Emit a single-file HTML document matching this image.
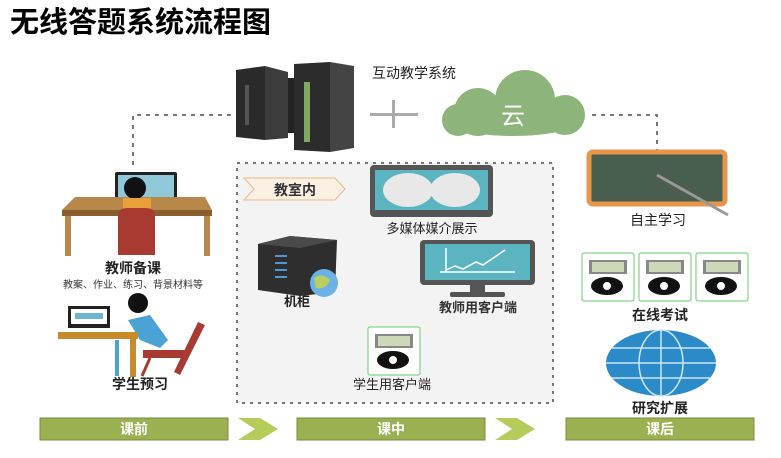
<!DOCTYPE html>
<html><head><meta charset="utf-8"><style>
html,body{margin:0;padding:0;background:#fff;width:781px;height:458px;overflow:hidden}
text{font-family:"Liberation Sans","Noto Sans CJK SC",sans-serif}
</style></head><body>
<svg width="781" height="458" viewBox="0 0 781 458" xmlns="http://www.w3.org/2000/svg">
<text x="10" y="32" font-size="29" font-weight="bold" fill="#000">无线答题系统流程图</text>
<!-- dashed connectors -->
<path d="M133 165 V115 H232" stroke="#777" stroke-width="2" stroke-dasharray="4 5" fill="none"/>
<path d="M592 115 H657 V150" stroke="#777" stroke-width="2" stroke-dasharray="4 5" fill="none"/>
<!-- classroom box -->
<rect x="237" y="163" width="316" height="240" fill="#f3f3f3" stroke="#777" stroke-width="2" stroke-dasharray="3 5"/>
<!-- server -->
<polygon points="236,70 265,66 265,140 236,137" fill="#2a2a2a"/>
<polygon points="265,66 288,72 288,138 265,140" fill="#3c3c3c"/>
<rect x="288" y="78" width="6" height="55" fill="#222"/>
<polygon points="294,64 330,62 330,152 294,150" fill="#2c2c2c"/>
<polygon points="330,62 354,66 354,148 330,152" fill="#444"/>
<rect x="304" y="82" width="6" height="60" fill="#7fa860"/>
<rect x="245" y="85" width="4" height="40" fill="#555"/>
<!-- label -->
<text x="372" y="78" font-size="14" fill="#222">互动教学系统</text>
<!-- plus -->
<rect x="370" y="113" width="48" height="3" fill="#aaa"/>
<rect x="392" y="100" width="3" height="28" fill="#aaa"/>
<!-- cloud -->
<g fill="#8db47a">
<ellipse cx="513" cy="118" rx="70" ry="18"/>
<circle cx="478" cy="112" r="24"/>
<circle cx="525" cy="100" r="30"/>
<circle cx="565" cy="115" r="20"/>
<circle cx="458" cy="120" r="16"/>
</g>
<text x="513" y="124" font-size="24" fill="#fff" text-anchor="middle">云</text>
<!-- blackboard -->
<rect x="589" y="152" width="136" height="52" rx="4" fill="#4a5e50" stroke="#e8964a" stroke-width="5"/>
<line x1="657" y1="175" x2="728" y2="215" stroke="#999" stroke-width="3"/>
<text x="630" y="225" font-size="14" fill="#222">自主学习</text>
<!-- teacher prep -->
<rect x="115" y="172" width="62" height="28" rx="2" fill="#222"/>
<rect x="118" y="175" width="56" height="22" fill="#8fc8d8"/>
<polygon points="75,197 205,197 212,210 62,210" fill="#b8874a"/>
<rect x="62" y="210" width="150" height="6" fill="#8a5e2e"/>
<rect x="65" y="216" width="6" height="40" fill="#b8874a"/>
<rect x="204" y="216" width="6" height="40" fill="#b8874a"/>
<circle cx="135" cy="188" r="11" fill="#111"/>
<rect x="123" y="198" width="28" height="14" fill="#e8a13a"/>
<path d="M118 215 Q118 208 128 208 H145 Q155 208 155 215 V255 H118Z" fill="#a83a32"/>
<text x="133" y="273" font-size="14" font-weight="bold" fill="#222" text-anchor="middle">教师备课</text>
<text x="133" y="288" font-size="10" fill="#333" text-anchor="middle">教案、作业、练习、背景材料等</text>
<!-- student -->
<rect x="68" y="306" width="42" height="22" fill="#222"/>
<rect x="71" y="309" width="36" height="15" fill="#fff"/>
<rect x="75" y="313" width="28" height="6" fill="#6fb6cc"/>
<circle cx="138" cy="303" r="10" fill="#111"/>
<path d="M128 320 L150 315 L168 340 L160 348 L140 340 Z" fill="#4aa3d4"/>
<rect x="58" y="332" width="80" height="7" fill="#c88a2a"/>
<rect x="130" y="339" width="6" height="38" fill="#c88a2a"/>
<rect x="115" y="340" width="4" height="36" fill="#4aa3d4"/>
<polygon points="198,322 205,325 180,375 174,372" fill="#a83a32"/>
<rect x="143" y="350" width="45" height="8" fill="#a83a32"/>
<line x1="150" y1="358" x2="142" y2="376" stroke="#a83a32" stroke-width="3"/>
<text x="140" y="389" font-size="14" font-weight="bold" fill="#222" text-anchor="middle">学生预习</text>
<!-- 教室内 tag -->
<polygon points="244,178 335,178 345,189 335,200 244,200 254,189" fill="#fbf0e4" stroke="#e8b888" stroke-width="1"/>
<text x="295" y="195" font-size="14" font-weight="bold" fill="#333" text-anchor="middle">教室内</text>
<!-- multimedia -->
<rect x="370" y="165" width="123" height="52" rx="4" fill="#555"/>
<rect x="375" y="170" width="113" height="40" fill="#5bb5c0"/>
<ellipse cx="408" cy="190" rx="25" ry="17" fill="#e8e8e8"/>
<ellipse cx="455" cy="190" rx="25" ry="17" fill="#e8e8e8"/>
<text x="432" y="233" font-size="13" fill="#222" text-anchor="middle">多媒体媒介展示</text>
<!-- cabinet -->
<polygon points="258,244 290,236 337,240 335,292 300,296 258,290" fill="#2e2e2e"/>
<polygon points="258,244 290,236 337,240 300,248" fill="#4a4a4a"/>
<g fill="#4a9ad8"><rect x="275" y="255" width="12" height="2"/><rect x="275" y="262" width="12" height="2"/><rect x="275" y="269" width="12" height="2"/><rect x="275" y="276" width="12" height="2"/></g>
<circle cx="324" cy="283" r="14" fill="#6bb2e6"/>
<path d="M314 278 Q322 272 330 280 Q326 290 316 288Z" fill="#b9d060"/>
<text x="297" y="306" font-size="13" font-weight="bold" fill="#222" text-anchor="middle">机柜</text>
<!-- teacher client -->
<rect x="420" y="240" width="115" height="45" rx="4" fill="#555"/>
<rect x="425" y="244" width="105" height="36" fill="#5bb5c0"/>
<polyline points="446,270 455,266 463,269 476,262 483,265 505,250" stroke="#fff" stroke-width="1.5" fill="none"/>
<line x1="446" y1="248" x2="446" y2="272" stroke="#fff" stroke-width="1.5"/>
<line x1="440" y1="272" x2="515" y2="272" stroke="#fff" stroke-width="1.5"/>
<rect x="470" y="285" width="15" height="8" fill="#555"/>
<rect x="450" y="292" width="55" height="5" rx="2" fill="#555"/>
<text x="478" y="312" font-size="13" font-weight="bold" fill="#333" text-anchor="middle">教师用客户端</text>
<!-- student client -->
<g id="dev">
<rect x="368" y="327" width="52" height="48" rx="2" fill="#fff" stroke="#6c6" stroke-width="1"/>
<rect x="375" y="334" width="38" height="14" fill="#888"/>
<rect x="378" y="336" width="32" height="10" fill="#cdd8b8"/>
<ellipse cx="393" cy="360" rx="16" ry="9" fill="#111"/>
<circle cx="393" cy="360" r="4" fill="#fff"/>
</g>
<text x="392" y="389" font-size="13" fill="#222" text-anchor="middle">学生用客户端</text>
<!-- cards -->
<use href="#dev" transform="translate(214,-74)"/>
<use href="#dev" transform="translate(271,-74)"/>
<use href="#dev" transform="translate(328,-74)"/>
<text x="660" y="320" font-size="14" font-weight="bold" fill="#222" text-anchor="middle">在线考试</text>
<!-- globe -->
<ellipse cx="661" cy="363" rx="55" ry="33" fill="#2b8ac8"/>
<g stroke="#cde6f4" stroke-width="1.5" fill="none">
<ellipse cx="661" cy="363" rx="22" ry="33"/>
<line x1="661" y1="330" x2="661" y2="396"/>
<line x1="606" y1="363" x2="716" y2="363"/>
<line x1="612" y1="348" x2="710" y2="348"/>
<line x1="612" y1="378" x2="710" y2="378"/>
</g>
<text x="660" y="413" font-size="14" font-weight="bold" fill="#222" text-anchor="middle">研究扩展</text>
<!-- bottom bars -->
<g fill="#9bb050" stroke="#7a8c3c" stroke-width="1">
<rect x="40" y="418" width="188" height="22"/>
<rect x="297" y="418" width="188" height="22"/>
<rect x="566" y="418" width="188" height="22"/>
</g>
<polygon points="238,418 260,418 278,429 260,440 238,440 255,429" fill="#b5cc5a"/>
<polygon points="495,418 517,418 535,429 517,440 495,440 512,429" fill="#b5cc5a"/>
<g font-size="14" font-weight="bold" fill="#fff" text-anchor="middle">
<text x="134" y="434">课前</text>
<text x="391" y="434">课中</text>
<text x="660" y="434">课后</text>
</g>
</svg>
</body></html>
